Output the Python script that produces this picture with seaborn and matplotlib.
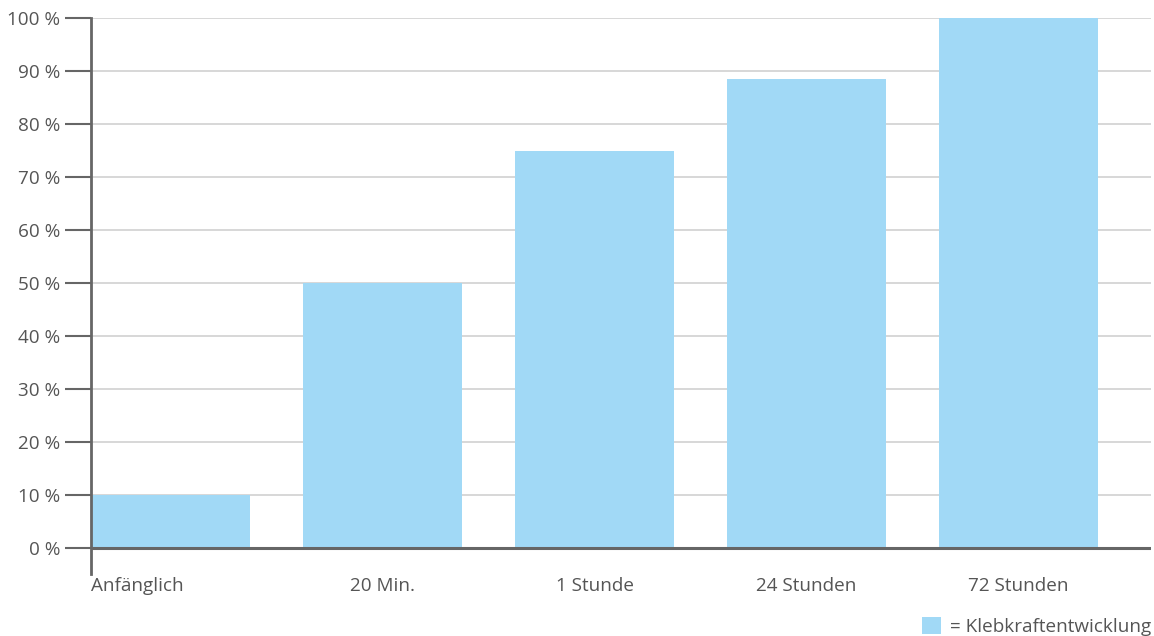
import pandas as pd
import seaborn as sns
import matplotlib.pyplot as plt
from matplotlib.patches import Patch
from matplotlib.ticker import FuncFormatter

categories = ["Anfänglich", "20 Min.", "1 Stunde", "24 Stunden", "72 Stunden"]
values = [10, 50, 75, 88.5, 100]
series_name = "= Klebkraftentwicklung"

df = pd.DataFrame({"Zeit": categories, "Klebkraft": values})

sns.set_style("white")
plt.rcParams['font.family'] = ['Open Sans', 'DejaVu Sans']

bar_color = "#a1d9f6"
text_color = "#555555"
axis_color = "#666666"
fs = 13.6

fig = plt.figure(figsize=(11.54, 6.36), dpi=100)
ax = fig.add_axes([91 / 1154, 1 - 574 / 636, 1060 / 1154, (574 - 18) / 636])

sns.barplot(data=df, x="Zeit", y="Klebkraft", color=bar_color, saturation=1,
            width=0.75, linewidth=0, ax=ax, zorder=2)

ax.set_xlim(-0.375, 4.625)
ax.set_ylim(-4.9, 100)
ax.set_yticks(range(0, 101, 10))
ax.yaxis.set_major_formatter(FuncFormatter(lambda v, p: f"{int(v)} %"))
ax.grid(axis="y", color="#d4d4d4", linewidth=1.3, zorder=0)
ax.set_axisbelow(True)
ax.axhline(0, color=axis_color, linewidth=2.2, zorder=3)

for s in ["top", "right", "bottom"]:
    ax.spines[s].set_visible(False)
ax.spines["left"].set_color(axis_color)
ax.spines["left"].set_linewidth(2)

ax.tick_params(axis="y", length=19, width=1.5, color=axis_color, pad=3,
               labelsize=fs, labelcolor=text_color, left=True)
ax.tick_params(axis="x", length=0, pad=2, labelsize=fs, labelcolor=text_color)

# first label starts at the axis instead of centred under the bar
ax.set_xticks([-0.375, 1, 2, 3, 4])
ax.set_xticklabels(categories)
ax.get_xticklabels()[0].set_horizontalalignment("left")

ax.set_xlabel("")
ax.set_ylabel("")

handle = [Patch(facecolor=bar_color, edgecolor="none", label=series_name)]
leg = fig.legend(handles=handle, loc="lower right", bbox_to_anchor=(0.998, 0.0),
                 frameon=False, fontsize=fs, handlelength=1.0, handleheight=1.0,
                 handletextpad=0.5, borderaxespad=0, borderpad=0)
for t in leg.get_texts():
    t.set_color(text_color)

plt.savefig("out.png", dpi=100)
